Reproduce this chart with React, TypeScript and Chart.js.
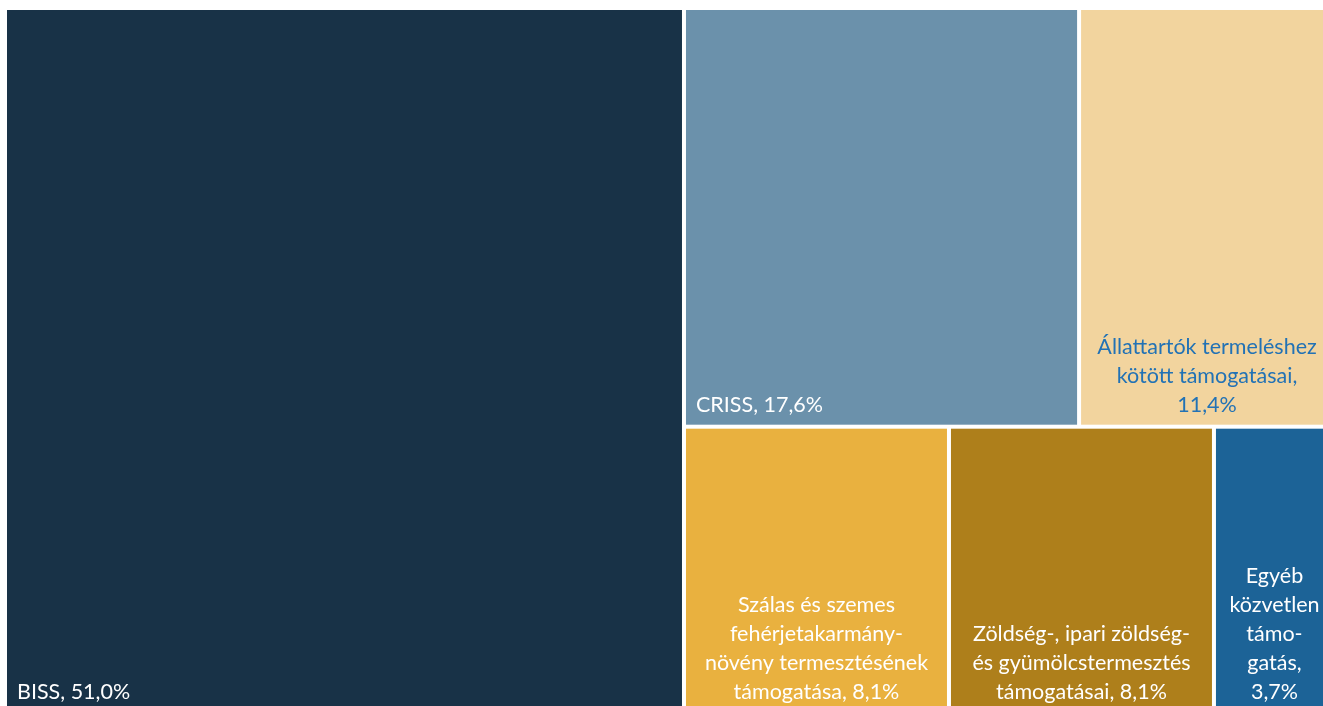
import React, { useEffect, useRef } from "react";
import { Chart, registerables } from "chart.js";

Chart.register(...registerables);

const categories = [
  "BISS",
  "CRISS",
  "Állattartók termeléshez kötött támogatásai",
  "Szálas és szemes fehérjetakarmány-növény termesztésének támogatása",
  "Zöldség-, ipari zöldség- és gyümölcstermesztés támogatásai",
  "Egyéb közvetlen támogatás",
];
const values = [51.0, 17.6, 11.4, 8.1, 8.1, 3.7];
const labelLines = [
  ["BISS, 51,0%"],
  ["CRISS, 17,6%"],
  ["Állattartók termeléshez", "kötött támogatásai,", "11,4%"],
  ["Szálas és szemes", "fehérjetakarmány-", "növény termesztésének", "támogatása, 8,1%"],
  ["Zöldség-, ipari zöldség-", "és gyümölcstermesztés", "támogatásai, 8,1%"],
  ["Egyéb", "közvetlen", "támo-", "gatás,", "3,7%"],
];
const fillColors = ["#183247", "#6b91ab", "#f2d49e", "#e9b13f", "#ae7f1b", "#1c6397"];
const textColors = ["#ffffff", "#ffffff", "#2272b5", "#ffffff", "#ffffff", "#ffffff"];
const textAlign = ["left", "left", "center", "center", "center", "center"];

type R = { x: number; y: number; w: number; h: number; i: number };

function squarify(vals: number[], W: number, H: number): R[] {
  const total = vals.reduce((a, b) => a + b, 0);
  const areas = vals.map((v) => (v / total) * W * H);
  const out: R[] = [];
  let rx = 0, ry = 0, rw = W, rh = H;
  const worst = (row: number[], side: number) => {
    if (!row.length) return Infinity;
    const a = row.map((k) => areas[k]);
    const s = a.reduce((p, q) => p + q, 0);
    const mx = Math.max(...a), mn = Math.min(...a);
    return Math.max((side * side * mx) / (s * s), (s * s) / (side * side * mn));
  };
  const layout = (row: number[]) => {
    const s = row.reduce((p, k) => p + areas[k], 0);
    if (rw >= rh) {
      const cw = s / rh;
      let yy = ry;
      row.forEach((k) => {
        const hh = areas[k] / cw;
        out.push({ x: rx, y: yy, w: cw, h: hh, i: k });
        yy += hh;
      });
      rx += cw;
      rw -= cw;
    } else {
      const rhh = s / rw;
      let xx = rx;
      row.forEach((k) => {
        const ww = areas[k] / rhh;
        out.push({ x: xx, y: ry, w: ww, h: rhh, i: k });
        xx += ww;
      });
      ry += rhh;
      rh -= rhh;
    }
  };
  let row: number[] = [];
  let i = 0;
  while (i < vals.length) {
    const side = Math.min(rw, rh);
    if (!row.length || worst([...row, i], side) <= worst(row, side)) {
      row.push(i);
      i++;
    } else {
      layout(row);
      row = [];
    }
  }
  if (row.length) layout(row);
  return out;
}

const treemapPlugin = {
  id: "treemapCells",
  afterDraw(chart: any) {
    const { ctx, chartArea } = chart;
    const xs = chart.scales.x;
    const ys = chart.scales.y;
    const aspect = (chartArea.right - chartArea.left) / (chartArea.bottom - chartArea.top);
    const rects = squarify(values, aspect, 1);
    const gap = 2;
    ctx.save();
    rects.forEach((r) => {
      const x0 = xs.getPixelForValue((r.x / aspect) * 100) + gap;
      const x1 = xs.getPixelForValue(((r.x + r.w) / aspect) * 100) - gap;
      const y0 = ys.getPixelForValue(100 - r.y * 100) + gap;
      const y1 = ys.getPixelForValue(100 - (r.y + r.h) * 100) - gap;
      ctx.fillStyle = fillColors[r.i];
      ctx.fillRect(x0, y0, x1 - x0, y1 - y0);
      const lines = labelLines[r.i];
      ctx.fillStyle = textColors[r.i];
      ctx.font = "21.5px Lato, 'Open Sans', sans-serif";
      ctx.textBaseline = "middle";
      const al = textAlign[r.i];
      ctx.textAlign = al === "left" ? "left" : "center";
      const tx = al === "left" ? x0 + 10 : (x0 + x1) / 2;
      const lh = 29;
      lines.forEach((ln, k) => {
        const ty = y1 - 20 - (lines.length - 1 - k) * lh;
        ctx.fillText(ln, tx, ty);
      });
    });
    ctx.restore();
  },
};

export default function App() {
  const ref = useRef<HTMLCanvasElement | null>(null);
  useEffect(() => {
    if (!ref.current) return;
    const chart = new Chart(ref.current, {
      type: "scatter",
      data: {
        labels: categories,
        datasets: [{ label: "Támogatás", data: values.map(() => ({ x: NaN, y: NaN })), pointRadius: 0 }],
      },
      options: {
        animation: false,
        responsive: false,
        layout: { padding: 0, autoPadding: false },
        plugins: {
          legend: { display: false },
          tooltip: { enabled: false },
          title: { display: false },
        },
        scales: {
          x: { type: "linear", min: 0, max: 100, display: false },
          y: { type: "linear", min: 0, max: 100, display: false },
        },
      },
      plugins: [treemapPlugin],
    });
    return () => chart.destroy();
  }, []);
  return (
    <div style={{ position: "fixed", left: 0, top: 0, width: "100vw", height: "100vh", overflow: "hidden", background: "#ffffff" }}>
      <canvas
        ref={ref}
        width={1330}
        height={706}
        style={{ position: "absolute", left: 5, top: 8, display: "block", width: 1330, height: 706 }}
      />
    </div>
  );
}
